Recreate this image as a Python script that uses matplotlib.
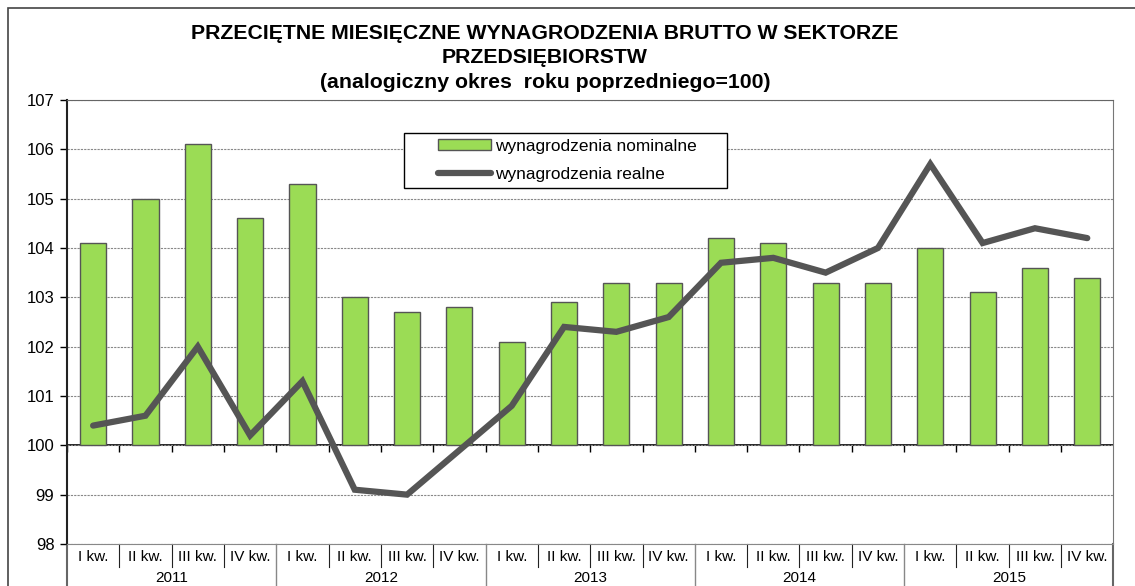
import matplotlib.pyplot as plt
import numpy as np
from matplotlib.patches import Rectangle

plt.rcParams['font.family'] = ['Liberation Sans', 'DejaVu Sans']

# data
quarters = ["I kw.", "II kw.", "III kw.", "IV kw."] * 5
years = ["2011", "2012", "2013", "2014", "2015"]
nominal = [104.1, 105.0, 106.1, 104.6, 105.3, 103.0, 102.7, 102.8, 102.1, 102.9,
           103.3, 103.3, 104.2, 104.1, 103.3, 103.3, 104.0, 103.1, 103.6, 103.4]
real = [100.4, 100.6, 102.0, 100.2, 101.3, 99.1, 99.0, 99.9, 100.8, 102.4,
        102.3, 102.6, 103.7, 103.8, 103.5, 104.0, 105.7, 104.1, 104.4, 104.2]
base = 100

fig = plt.figure(figsize=(11.35, 5.86), dpi=100)
ax = fig.add_axes([0.059, 0.0717, 0.922, 0.7577])

x = np.arange(len(nominal))
bars = ax.bar(x, np.array(nominal) - base, bottom=base, width=0.5, color='#9bdc55',
              edgecolor='#555555', linewidth=1.0, zorder=2, label='wynagrodzenia nominalne')
line, = ax.plot(x, real, color='#555555', linewidth=4.5, solid_capstyle='round',
                solid_joinstyle='miter', zorder=3, label='wynagrodzenia realne')

ax.set_xlim(-0.5, len(nominal) - 0.5)
ax.set_ylim(98, 107)
ax.set_yticks(range(98, 108))
ax.tick_params(axis='y', labelsize=12, length=5, width=1, direction='out', pad=4)
ax.yaxis.grid(True, linestyle=(0, (2, 1)), color='#888888', linewidth=0.8, zorder=0)
ax.set_axisbelow(True)

# quarter labels
ax.set_xticks(x)
ax.set_xticklabels(quarters, fontsize=11)
ax.tick_params(axis='x', length=0, pad=4)

# axis line at 100 with tick marks at category boundaries
sec = ax.secondary_xaxis((base - 98) / 9)
sec.set_xticks(np.arange(-0.5, len(nominal) - 1, 1.0))
sec.set_xticklabels([])
sec.tick_params(axis='x', length=5, width=1, direction='out', color='black')
sec.spines['bottom'].set_color('black')
sec.spines['bottom'].set_linewidth(1.2)

ax.spines['left'].set_color('#222222')
ax.spines['left'].set_linewidth(1.5)
ax.spines['right'].set_color('#777777')
ax.spines['top'].set_color('#666666')
ax.spines['bottom'].set_color('#888888')

# category table separators
tr = ax.get_xaxis_transform()
for i in range(1, len(nominal)):
    if i % 4 == 0:
        ax.plot([i - 0.5, i - 0.5], [0, -0.11], transform=tr, color='#888888',
                lw=1, clip_on=False)
    else:
        ax.plot([i - 0.5, i - 0.5], [0, -0.052], transform=tr, color='#222222',
                lw=0.8, clip_on=False)
for xe in [-0.5, len(nominal) - 0.5]:
    ax.plot([xe, xe], [0, -0.11], transform=tr, color='#666666', lw=1.5, clip_on=False)

for k, yr in enumerate(years):
    ax.text(4 * k + 1.5, -0.076, yr, transform=tr, ha='center', va='center', fontsize=11)

# title
fig.text(0.48, 0.943, "PRZECIĘTNE MIESIĘCZNE WYNAGRODZENIA BRUTTO W SEKTORZE",
         ha='center', va='center', fontsize=15.3, weight='bold')
fig.text(0.48, 0.902, "PRZEDSIĘBIORSTW", ha='center', va='center', fontsize=15.3, weight='bold')
fig.text(0.48, 0.859, "(analogiczny okres  roku poprzedniego=100)", ha='center',
         va='center', fontsize=15.3, weight='bold')

# legend with Excel-like wide frame
leg = ax.legend([bars, line], ['wynagrodzenia nominalne', 'wynagrodzenia realne'],
                loc='center', bbox_to_anchor=(0.478, 0.864), fontsize=12.4,
                frameon=False, handlelength=3.1, handleheight=0.6, handletextpad=0.2,
                labelspacing=0.75)
ax.add_patch(Rectangle((0.3219, 0.8018), 0.3085, 0.1239, transform=ax.transAxes,
                       fill=True, facecolor='white', edgecolor='black', lw=1,
                       zorder=4))
leg.set_zorder(5)

# outer chart border
fig.patches.append(Rectangle((8 / 1135, -0.1), 1.2, 1 - 8 / 586 + 0.1,
                             transform=fig.transFigure, fill=False,
                             edgecolor='#444444', linewidth=1.2))

fig.savefig('out.png', dpi=100, facecolor='white')
